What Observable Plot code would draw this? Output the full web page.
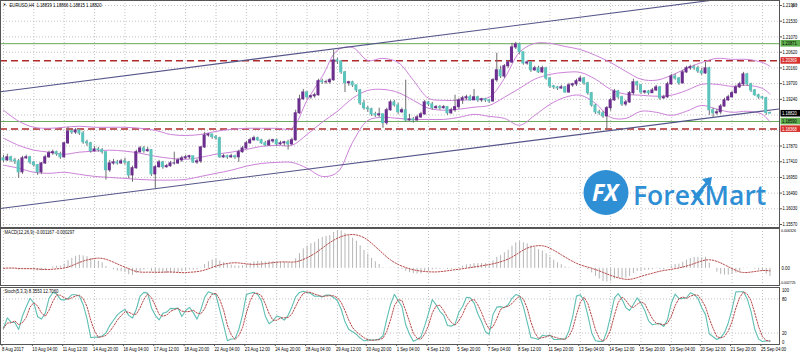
<!DOCTYPE html>
<html><head><meta charset="utf-8">
<script src="https://cdn.jsdelivr.net/npm/d3@7"></script>
<script src="https://cdn.jsdelivr.net/npm/@observablehq/plot@0.6"></script>
<style>
html,body{margin:0;padding:0;background:#fff;}
body{width:800px;height:355px;overflow:hidden;position:relative;}
#chart svg{display:block;}
#logo{position:absolute;left:583px;top:169px;pointer-events:none;}
</style></head><body>
<div id="chart"></div>
<div id="logo"><svg width="200" height="50" style="overflow:visible">
<circle cx="23" cy="23.5" r="22.5" fill="#2f8fd5"/>
<text x="22" y="32" text-anchor="middle" font-family="Open Sans" font-weight="700" font-style="italic" font-size="23" fill="#fff">FX</text>
<text x="50" y="36" font-family="Open Sans" font-weight="600" font-size="26.5" fill="#2f8fd5">ForexMart</text>
<path d="M111 29 L125 13" stroke="#2f8fd5" stroke-width="3"/><path d="M119 10 L129 8 L127 19 Z" fill="#2f8fd5"/>
</svg></div>
<script>
const title = "EURUSD,H4  1.18839 1.18866 1.18815 1.18820";
const macdTitle = "MACD(12,26,9) -0.001167 -0.000297";
const stochTitle = "Stoch(5,3,3) 8.3553 12.7060";
const timeLabels = ["8 Aug 2017","10 Aug 04:00","11 Aug 12:00","14 Aug 20:00","16 Aug 04:00","17 Aug 12:00","18 Aug 20:00","22 Aug 04:00","23 Aug 12:00","24 Aug 20:00","28 Aug 04:00","29 Aug 12:00","30 Aug 20:00","1 Sep 04:00","4 Sep 12:00","5 Sep 20:00","7 Sep 04:00","8 Sep 12:00","11 Sep 20:00","13 Sep 04:00","14 Sep 12:00","15 Sep 20:00","19 Sep 04:00","20 Sep 12:00","21 Sep 20:00","25 Sep 04:00"];
const priceTicks = [1.2199,1.2153,1.2107,1.2062,1.2016,1.1970,1.1924,1.1878,1.1833,1.1787,1.1741,1.1695,1.1649,1.1603,1.1557];
const priceTickLabels = [1.2199,1.2153,1.2107,1.2062,1.2016,1.1970,1.1924,1.1787,1.1741,1.1695,1.1649,1.1603,1.1557];
const greenLevels = [1.20871, 1.18590];
const redLevels = [1.20369, 1.18368];
const levelValues = [1.20871, 1.20369, 1.18820, 1.18590, 1.18368];
const macdTicks = [0.006326, 0, -0.002725];
const macdTickLabels = ["0.006326", "0.00", "-0.002725"];
const stochTicks = [100, 80, 20, 0];
const trendUpper = [{i:-0.79, p:1.1946}, {i:204.5, p:1.2240}];
const trendLower = [{i:-0.79, p:1.1604}, {i:204.5, p:1.1896}];

const opens = [1.1751,1.1745,1.1754,1.1745,1.1742,1.1710,1.1751,1.1754,1.1739,1.1731,
1.1710,1.1736,1.1754,1.1766,1.1769,1.1763,1.1754,1.1795,1.1830,1.1827,
1.1833,1.1824,1.1798,1.1795,1.1772,1.1777,1.1775,1.1769,1.1716,1.1736,
1.1739,1.1736,1.1742,1.1739,1.1701,1.1722,1.1769,1.1780,1.1772,1.1775,
1.1704,1.1725,1.1739,1.1725,1.1728,1.1736,1.1736,1.1745,1.1751,1.1754,
1.1757,1.1739,1.1742,1.1783,1.1818,1.1821,1.1813,1.1810,1.1754,1.1757,
1.1754,1.1757,1.1754,1.1769,1.1780,1.1795,1.1804,1.1810,1.1804,1.1795,
1.1789,1.1801,1.1804,1.1792,1.1795,1.1798,1.1792,1.1804,1.1883,1.1924,
1.1944,1.1930,1.1933,1.1936,1.1977,1.1974,1.1974,1.1980,1.2038,1.2035,
1.2003,1.1971,1.1974,1.1965,1.1950,1.1912,1.1898,1.1895,1.1880,1.1877,
1.1880,1.1854,1.1892,1.1915,1.1906,1.1886,1.1892,1.1862,1.1865,1.1862,
1.1871,1.1880,1.1915,1.1909,1.1898,1.1901,1.1898,1.1901,1.1883,1.1892,
1.1901,1.1921,1.1927,1.1930,1.1921,1.1930,1.1921,1.1924,1.1921,1.1918,
1.1980,1.2009,1.1991,1.2021,1.2032,1.2076,1.2085,1.2062,1.2029,1.2032,
1.2009,1.2015,1.2003,1.2015,1.1985,1.1962,1.1959,1.1956,1.1959,1.1944,
1.1965,1.1968,1.1977,1.1985,1.1971,1.1942,1.1906,1.1886,1.1883,1.1874,
1.1898,1.1921,1.1947,1.1930,1.1909,1.1915,1.1942,1.1974,1.1965,1.1944,
1.1947,1.1942,1.1950,1.1959,1.1927,1.1930,1.1968,1.1991,1.1985,1.1971,
1.2003,1.2015,1.2018,1.2015,1.2006,1.2000,1.2015,1.1892,1.1883,1.1886,
1.1903,1.1921,1.1930,1.1942,1.1959,1.1968,1.1997,1.1968,1.1950,1.1936,
1.1930,1.1927,1.18839];
const highs = [1.1760,1.1763,1.1757,1.1751,1.1748,1.1757,1.1760,1.1757,1.1742,1.1733,
1.1739,1.1760,1.1772,1.1775,1.1772,1.1769,1.1798,1.1842,1.1836,1.1839,
1.1836,1.1830,1.1804,1.1798,1.1786,1.1783,1.1780,1.1769,1.1745,1.1748,
1.1745,1.1748,1.1751,1.1742,1.1728,1.1775,1.1786,1.1786,1.1783,1.1777,
1.1731,1.1745,1.1742,1.1733,1.1742,1.1769,1.1751,1.1757,1.1760,1.1760,
1.1757,1.1748,1.1786,1.1827,1.1824,1.1821,1.1818,1.1813,1.1763,1.1760,
1.1763,1.1760,1.1775,1.1786,1.1801,1.1810,1.1816,1.1813,1.1807,1.1801,
1.1807,1.1807,1.1807,1.1801,1.1801,1.1804,1.1810,1.1892,1.1936,1.1953,
1.1947,1.1936,1.1942,1.1983,1.1983,1.1980,1.1985,1.2068,1.2044,1.2038,
1.2006,1.1977,1.1977,1.1965,1.1953,1.1921,1.1903,1.1898,1.1886,1.1898,
1.1880,1.1898,1.1921,1.1921,1.1912,1.1898,1.1980,1.1880,1.1871,1.1877,
1.1886,1.1921,1.1918,1.1915,1.1906,1.1906,1.1906,1.1903,1.1898,1.1936,
1.1927,1.1933,1.1936,1.1936,1.1953,1.1933,1.1927,1.1927,1.1924,1.1985,
1.2059,1.2021,1.2026,1.2038,1.2088,1.2091,1.2088,1.2062,1.2038,1.2035,
1.2021,1.2021,1.2021,1.2018,1.1988,1.1965,1.1962,1.1965,1.1962,1.1971,
1.1971,1.1983,1.1991,1.1988,1.1974,1.1944,1.1909,1.1892,1.1889,1.1903,
1.1927,1.1953,1.1950,1.1933,1.1921,1.1947,1.1983,1.1977,1.1968,1.1950,
1.1950,1.1956,1.1965,1.1962,1.1936,1.1974,1.1997,1.1997,1.1988,1.2009,
1.2021,1.2024,1.2024,1.2021,1.2015,1.2032,1.2018,1.1898,1.1895,1.1909,
1.1927,1.1936,1.1947,1.1965,1.1974,1.2003,1.2000,1.1971,1.1953,1.1939,
1.1933,1.1930,1.18866];
const lows = [1.1739,1.1742,1.1739,1.1733,1.1692,1.1704,1.1748,1.1733,1.1725,1.1701,
1.1704,1.1733,1.1751,1.1760,1.1757,1.1748,1.1751,1.1792,1.1821,1.1821,
1.1818,1.1792,1.1786,1.1766,1.1769,1.1769,1.1763,1.1687,1.1710,1.1731,
1.1731,1.1733,1.1731,1.1692,1.1681,1.1719,1.1766,1.1766,1.1769,1.1698,
1.1663,1.1722,1.1719,1.1722,1.1725,1.1731,1.1733,1.1739,1.1748,1.1748,
1.1736,1.1733,1.1736,1.1780,1.1813,1.1807,1.1804,1.1751,1.1751,1.1748,
1.1751,1.1748,1.1739,1.1766,1.1777,1.1792,1.1801,1.1801,1.1792,1.1786,
1.1786,1.1795,1.1786,1.1789,1.1786,1.1775,1.1789,1.1801,1.1880,1.1921,
1.1924,1.1924,1.1927,1.1933,1.1968,1.1968,1.1968,1.1977,1.2026,1.1997,
1.1944,1.1962,1.1959,1.1944,1.1906,1.1892,1.1886,1.1874,1.1871,1.1871,
1.1839,1.1848,1.1889,1.1901,1.1880,1.1883,1.1857,1.1860,1.1854,1.1860,
1.1868,1.1877,1.1903,1.1892,1.1895,1.1892,1.1895,1.1877,1.1880,1.1886,
1.1895,1.1909,1.1921,1.1918,1.1921,1.1915,1.1915,1.1915,1.1912,1.1915,
1.1974,1.1985,1.1985,1.2015,1.2029,1.2070,1.2056,1.2024,1.2024,1.2003,
1.2006,1.2000,1.2000,1.1980,1.1956,1.1953,1.1950,1.1953,1.1942,1.1942,
1.1959,1.1962,1.1974,1.1965,1.1936,1.1901,1.1880,1.1877,1.1868,1.1836,
1.1889,1.1918,1.1924,1.1903,1.1903,1.1912,1.1936,1.1950,1.1939,1.1939,
1.1936,1.1942,1.1947,1.1921,1.1924,1.1927,1.1965,1.1980,1.1965,1.1968,
1.2000,1.2009,1.2009,1.2000,1.1994,1.1997,1.1877,1.1871,1.1877,1.1880,
1.1901,1.1918,1.1927,1.1939,1.1956,1.1962,1.1962,1.1944,1.1933,1.1924,
1.1924,1.1877,1.18815];
const closes = [1.1745,1.1754,1.1745,1.1742,1.1710,1.1751,1.1754,1.1739,1.1731,1.1710,
1.1736,1.1754,1.1766,1.1769,1.1763,1.1754,1.1795,1.1830,1.1827,1.1833,
1.1824,1.1798,1.1795,1.1772,1.1777,1.1775,1.1769,1.1716,1.1736,1.1739,
1.1736,1.1742,1.1739,1.1701,1.1722,1.1769,1.1780,1.1772,1.1775,1.1704,
1.1725,1.1739,1.1725,1.1728,1.1736,1.1736,1.1745,1.1751,1.1754,1.1757,
1.1739,1.1742,1.1783,1.1818,1.1821,1.1813,1.1810,1.1754,1.1757,1.1754,
1.1757,1.1754,1.1769,1.1780,1.1795,1.1804,1.1810,1.1804,1.1795,1.1789,
1.1801,1.1804,1.1792,1.1795,1.1798,1.1792,1.1804,1.1883,1.1924,1.1944,
1.1930,1.1933,1.1936,1.1977,1.1974,1.1974,1.1980,1.2038,1.2035,1.2003,
1.1971,1.1974,1.1965,1.1950,1.1912,1.1898,1.1895,1.1880,1.1877,1.1880,
1.1854,1.1892,1.1915,1.1906,1.1886,1.1892,1.1862,1.1865,1.1862,1.1871,
1.1880,1.1915,1.1909,1.1898,1.1901,1.1898,1.1901,1.1883,1.1892,1.1901,
1.1921,1.1927,1.1930,1.1921,1.1930,1.1921,1.1924,1.1921,1.1918,1.1980,
1.2009,1.1991,1.2021,1.2032,1.2076,1.2085,1.2062,1.2029,1.2032,1.2009,
1.2015,1.2003,1.2015,1.1985,1.1962,1.1959,1.1956,1.1959,1.1944,1.1965,
1.1968,1.1977,1.1985,1.1971,1.1942,1.1906,1.1886,1.1883,1.1874,1.1898,
1.1921,1.1947,1.1930,1.1909,1.1915,1.1942,1.1974,1.1965,1.1944,1.1947,
1.1942,1.1950,1.1959,1.1927,1.1930,1.1968,1.1991,1.1985,1.1971,1.2003,
1.2015,1.2018,1.2015,1.2006,1.2000,1.2015,1.1892,1.1883,1.1886,1.1903,
1.1921,1.1930,1.1942,1.1959,1.1968,1.1997,1.1968,1.1950,1.1936,1.1930,
1.1927,1.18839,1.18820];

const bbIndex = [0,4,8,12,16,20,24,28,32,36,40,44,48,52,56,60,64,68,72,76,80,84,88,92,96,100,104,108,112,116,120,124,128,132,136,140,144,148,152,156,160,164,168,172,176,180,184,188,192,196,200,202];
const bbUpper = [1.1892,1.1860,1.1842,1.1839,1.1842,1.1845,1.1842,1.1842,1.1842,1.1839,
1.1833,1.1821,1.1818,1.1821,1.1830,1.1836,1.1839,1.1839,1.1839,1.1839,
1.1921,1.1991,1.2068,1.2076,1.2038,1.2044,1.2032,1.1980,1.1927,1.1921,
1.1921,1.1924,1.1930,1.1985,1.2062,1.2088,1.2088,1.2079,1.2070,1.2053,
1.2032,1.2006,1.1983,1.1980,1.1994,1.2015,1.2032,1.2044,1.2041,1.2041,
1.2032,1.2021];
const bbMiddle = [1.1810,1.1789,1.1775,1.1769,1.1763,1.1769,1.1772,1.1775,1.1772,1.1766,
1.1757,1.1751,1.1748,1.1754,1.1763,1.1769,1.1777,1.1786,1.1789,1.1789,
1.1821,1.1857,1.1889,1.1927,1.1950,1.1953,1.1944,1.1921,1.1898,1.1892,
1.1895,1.1901,1.1906,1.1930,1.1956,1.1983,1.1997,1.2003,1.2003,1.1983,
1.1953,1.1939,1.1936,1.1933,1.1936,1.1950,1.1968,1.1968,1.1962,1.1965,
1.1956,1.1939];
const bbLower = [1.1731,1.1722,1.1710,1.1707,1.1710,1.1704,1.1698,1.1695,1.1692,1.1689,
1.1687,1.1687,1.1689,1.1698,1.1707,1.1716,1.1728,1.1736,1.1739,1.1739,
1.1722,1.1698,1.1710,1.1798,1.1862,1.1871,1.1868,1.1865,1.1865,1.1865,
1.1871,1.1880,1.1874,1.1868,1.1848,1.1877,1.1909,1.1930,1.1936,1.1912,
1.1871,1.1868,1.1889,1.1886,1.1877,1.1889,1.1906,1.1895,1.1886,1.1889,
1.1880,1.1857];

const N = closes.length;
const idx = d3.range(N);
const labelIdx = timeLabels.map((_, k) => k * 8);
const xDomain = [-0.79, 204.5];

// MACD (12,26,9) and Stochastic (5,3,3) derived from the OHLC arrays above
function ema(src, n) { const k = 2 / (n + 1); const out = []; src.forEach((v, i) => out.push(i ? v * k + out[i - 1] * (1 - k) : v)); return out; }
const e12 = ema(closes, 12), e26 = ema(closes, 26);
const macdMain = closes.map((c, i) => e12[i] - e26[i]);
const macdSignal = macdMain.map((v, i) => d3.mean(macdMain.slice(Math.max(0, i - 8), i + 1)));
const ll = idx.map(i => d3.min(lows.slice(Math.max(0, i - 4), i + 1)));
const hh = idx.map(i => d3.max(highs.slice(Math.max(0, i - 4), i + 1)));
const stochK = idx.map(i => { let a = 0, b = 0; for (let j = Math.max(0, i - 2); j <= i; j++) { a += closes[j] - ll[j]; b += hh[j] - ll[j]; } return b ? 100 * a / b : 50; });
const stochD = stochK.map((v, i) => d3.mean(stochK.slice(Math.max(0, i - 2), i + 1)));

const style = {fontFamily: "Liberation Sans, Arial, sans-serif", fontSize: "5.2px", background: "transparent", overflow: "visible", color: "#000"};
const grid = {stroke: "#c2c2c2", strokeOpacity: 1, strokeDasharray: "1,2"};
const bull = "#6c2e8f", bear = "#5cc4bc";

const main = Plot.plot({
  width: 800, height: 227, marginTop: 0, marginBottom: 0, marginLeft: 0, marginRight: 21,
  x: {domain: xDomain, axis: null},
  y: {domain: [1.15482, 1.22137], axis: null},
  style,
  marks: [
    Plot.gridY(priceTicks, grid),
    Plot.gridX(labelIdx, grid),
    Plot.ruleY(greenLevels, {stroke: "#6aaa58", strokeWidth: 1}),
    Plot.ruleY(redLevels, {stroke: "#b02a2a", strokeWidth: 1.6, strokeDasharray: "7,4"}),
    Plot.line(bbIndex, {x: d => d, y: (d, k) => bbUpper[k], curve: "catmull-rom", stroke: "#cc82d8", strokeWidth: 1}),
    Plot.line(bbIndex, {x: d => d, y: (d, k) => bbMiddle[k], curve: "catmull-rom", stroke: "#cc82d8", strokeWidth: 1}),
    Plot.line(bbIndex, {x: d => d, y: (d, k) => bbLower[k], curve: "catmull-rom", stroke: "#cc82d8", strokeWidth: 1}),
    Plot.line(trendUpper, {x: "i", y: "p", stroke: "#55558a", strokeWidth: 1.1, clip: true}),
    Plot.line(trendLower, {x: "i", y: "p", stroke: "#55558a", strokeWidth: 1.1, clip: true}),
    Plot.ruleX(idx, {x: d => d, y1: i => lows[i], y2: i => highs[i], stroke: "#6d6d6d", strokeWidth: 1}),
    Plot.rect(idx.filter(i => closes[i] >= opens[i]), {x1: i => i - 0.4, x2: i => i + 0.4, y1: i => opens[i], y2: i => closes[i], fill: bull, insetTop: -0.5, insetBottom: -0.5}),
    Plot.rect(idx.filter(i => closes[i] < opens[i]), {x1: i => i - 0.4, x2: i => i + 0.4, y1: i => opens[i], y2: i => closes[i], fill: bear, insetTop: -0.5, insetBottom: -0.5}),
    Plot.frame({stroke: "#555"}),
    Plot.axisY(priceTickLabels, {anchor: "right", tickSize: 2, tickPadding: 1, tickFormat: d => d.toFixed(5), stroke: "#555", fontSize: 5}),
    Plot.text(levelValues, {y: d => d, text: d => d.toFixed(5), frameAnchor: "right", dx: 2.5, textAnchor: "start", fontSize: 5}),
    Plot.text([title], {frameAnchor: "top-left", dx: 9, dy: 2.5, textAnchor: "start", lineAnchor: "top"}),
    Plot.text(["▼"], {frameAnchor: "top-left", dx: 2.5, dy: 3, fontSize: 4, textAnchor: "start", lineAnchor: "top"})
  ]
});

const macdPlot = Plot.plot({
  width: 800, height: 58, marginTop: 1, marginBottom: 0, marginLeft: 0, marginRight: 21,
  x: {domain: xDomain, axis: null},
  y: {domain: [-0.002725, 0.006326], axis: null},
  style,
  marks: [
    Plot.gridX(labelIdx, grid),
    Plot.ruleX(idx, {x: d => d, y1: 0, y2: i => macdMain[i], stroke: "#b5b5b5", strokeWidth: 1, clip: true}),
    Plot.line(idx, {x: d => d, y: i => macdSignal[i], stroke: "#b84a4a", strokeWidth: 1, strokeDasharray: "1.5,1.5", clip: true}),
    Plot.frame({stroke: "#555"}),
    Plot.text([macdTicks[0]], {y: d => d, text: [macdTickLabels[0]], frameAnchor: "right", dx: 1.5, dy: 2, textAnchor: "start", fontSize: 4.4}),
    Plot.text([macdTicks[1]], {y: d => d, text: [macdTickLabels[1]], frameAnchor: "right", dx: 2, textAnchor: "start"}),
    Plot.text([macdTicks[2]], {y: d => d, text: [macdTickLabels[2]], frameAnchor: "right", dx: 0.5, dy: -3, textAnchor: "start", fontSize: 4.2}),
    Plot.text([macdTitle], {frameAnchor: "top-left", dx: 4, dy: 2, textAnchor: "start", lineAnchor: "top"})
  ]
});

const stochPlot = Plot.plot({
  width: 800, height: 70, marginTop: 2, marginBottom: 11, marginLeft: 0, marginRight: 21,
  x: {domain: xDomain},
  y: {domain: [0, 100], axis: null},
  style,
  marks: [
    Plot.gridX(labelIdx, grid),
    Plot.gridY([20, 80], grid),
    Plot.line(idx, {x: d => d, y: i => stochK[i], stroke: "#5fbfb3", strokeWidth: 1.1, clip: true}),
    Plot.line(idx, {x: d => d, y: i => stochD[i], stroke: "#b84a4a", strokeWidth: 1, strokeDasharray: "1.5,1.5", clip: true}),
    Plot.frame({stroke: "#555"}),
    Plot.axisX(labelIdx, {anchor: "bottom", tickSize: 2, tickPadding: 1, tickFormat: d => timeLabels[d / 8], textAnchor: "start", dx: -1.5, stroke: "#555"}),
    Plot.text([stochTicks[0]], {y: d => d, text: d => String(d), frameAnchor: "right", dx: 2.5, dy: 2.5, textAnchor: "start"}),
    Plot.text([stochTicks[1], stochTicks[2]], {y: d => d, text: d => String(d), frameAnchor: "right", dx: 2.5, dy: 0.5, textAnchor: "start"}),
    Plot.text([stochTicks[3]], {y: d => d, text: d => String(d), frameAnchor: "right", dx: 2.5, dy: -2, textAnchor: "start"}),
    Plot.text([stochTitle], {frameAnchor: "top-left", dx: 4, dy: 2, textAnchor: "start", lineAnchor: "top"})
  ]
});

const chart = document.getElementById("chart");
chart.append(main, macdPlot, stochPlot);

// condense text horizontally like the terminal font, keeping it inside the page
chart.querySelectorAll("svg text").forEach(t => {
  const L = t.getComputedTextLength();
  if (L > 0) {
    let w = L * 0.82;
    t.setAttribute("textLength", w.toFixed(2)); t.setAttribute("lengthAdjust", "spacingAndGlyphs");
    const right = t.getBoundingClientRect().right;
    if (right > 799.5) { w -= (right - 799.5); t.setAttribute("textLength", w.toFixed(2)); }
  }
});

// price-level boxes on the right scale
const boxFill = ["#5fae4e", "#d8322f", "#000000", "#5fae4e", "#d8322f"];
const boxText = ["#000", "#fff", "#fff", "#000", "#fff"];
const levelStrings = levelValues.map(v => v.toFixed(5));
const levelTexts = Array.from(main.querySelectorAll("text")).filter(t => levelStrings.includes(t.textContent));
const seen = new Set();
levelTexts.forEach(t => {
  const k = levelStrings.indexOf(t.textContent);
  if (seen.has(k)) return; seen.add(k);
  const b = t.getBBox();
  const r = document.createElementNS("http://www.w3.org/2000/svg", "rect");
  r.setAttribute("x", b.x - 1.5); r.setAttribute("y", b.y - 0.3);
  r.setAttribute("width", 800 - (b.x - 1.5)); r.setAttribute("height", b.height + 0.6);
  r.setAttribute("fill", boxFill[k]);
  if (t.getAttribute("transform")) r.setAttribute("transform", t.getAttribute("transform"));
  t.parentNode.insertBefore(r, t);
  t.setAttribute("fill", boxText[k]);
});
</script></body></html>
